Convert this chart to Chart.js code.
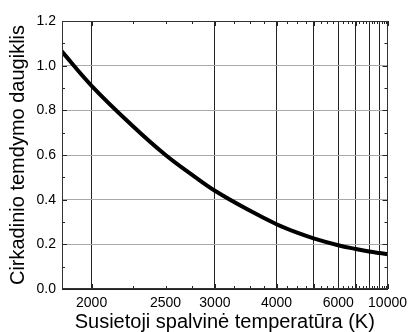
<!DOCTYPE html>
<html>
<head>
<meta charset="utf-8">
<script src="https://cdn.jsdelivr.net/npm/chart.js@4/dist/chart.umd.min.js"></script>
<style>
  body { margin: 0; background: #fff; }
  #wrap { width: 413px; height: 332px; }
</style>
</head>
<body>
<div id="wrap"><canvas id="cct"></canvas></div>
<script>
// correlated colour temperature (K) and circadian dimming factor
const temps = [1850, 2000, 2250, 2500, 2750, 3000, 3500, 4000, 4500, 5000, 6000, 7000, 8000, 9000, 10000];
const factor = [1.065, 0.91, 0.73, 0.60, 0.51, 0.44, 0.35, 0.29, 0.252, 0.227, 0.196, 0.179, 0.168, 0.161, 0.156];

// x ticks (K), drawn on a reciprocal (mired) axis
const tickTemps = [2000, 2250, 2500, 2750, 3000, 3250, 3500, 3750, 4000, 4250, 4500, 4750,
  5000, 5250, 5500, 5750, 6000, 6250, 6500, 6750, 7000, 7250, 7500, 7750,
  8000, 8250, 8500, 8750, 9000, 9250, 9500, 9750, 10000];
const gridTemps = [2000, 3000, 4000, 5000, 6000, 7000, 8000, 9000, 10000];
const labelTemps = [2000, 2500, 3000, 4000, 6000, 10000];

const mired = t => 1e6 / t;
const kelvin = m => Math.round(1e6 / m);
const isMajorY = v => Math.round(v * 10) % 2 === 0;

const FONT = "'Liberation Sans', Arial, sans-serif";

const innerTicks = {
  id: 'innerTicks',
  afterDraw(chart) {
    const {ctx, chartArea: a, scales: {x, y}} = chart;
    ctx.save();
    ctx.strokeStyle = '#222';
    ctx.lineWidth = 1;
    const seg = (x1, y1, x2, y2) => { ctx.beginPath(); ctx.moveTo(x1, y1); ctx.lineTo(x2, y2); ctx.stroke(); };
    x.ticks.forEach(t => {
      const px = Math.round(x.getPixelForValue(t.value)) + 0.5;
      const len = gridTemps.includes(kelvin(t.value)) ? 5 : 3;
      seg(px, a.bottom, px, a.bottom - len);
      seg(px, a.top, px, a.top + len);
    });
    y.ticks.forEach(t => {
      const py = Math.round(y.getPixelForValue(t.value)) + 0.5;
      const len = isMajorY(t.value) ? 5 : 3;
      seg(a.left, py, a.left + len, py);
      seg(a.right, py, a.right - len, py);
    });
    ctx.strokeStyle = '#333';
    ctx.strokeRect(Math.round(a.left) + 0.5, Math.round(a.top) + 0.5,
      Math.round(a.width) - 1, Math.round(a.height) - 1);
    ctx.restore();
  }
};

new Chart(document.getElementById('cct'), {
  type: 'line',
  data: {
    datasets: [{
      data: temps.map((t, i) => ({x: mired(t), y: factor[i]})),
      borderColor: '#000',
      borderWidth: 4,
      pointRadius: 0,
      tension: 0.4,
      fill: false
    }]
  },
  options: {
    responsive: true,
    maintainAspectRatio: false,
    animation: false,
    layout: { padding: { top: 21, right: 22, left: 0, bottom: 0 } },
    plugins: { legend: { display: false }, tooltip: { enabled: false } },
    scales: {
      x: {
        type: 'linear',
        reverse: true,
        min: 100,
        max: 540,
        afterBuildTicks: s => { s.ticks = tickTemps.map(t => ({value: mired(t)})); },
        afterFit: s => { s.height = 43; },
        grid: {
          drawTicks: false,
          color: c => gridTemps.includes(kelvin(c.tick.value)) ? '#222' : 'rgba(0,0,0,0)',
          lineWidth: 1
        },
        border: { display: true, color: '#222' },
        ticks: {
          autoSkip: false,
          maxRotation: 0,
          padding: 6,
          color: '#000',
          font: { family: FONT, size: 14 },
          callback: v => labelTemps.includes(kelvin(v)) ? String(kelvin(v)) : ''
        },
        title: {
          display: true,
          text: 'Susietoji spalvinė temperatūra (K)',
          color: '#000',
          font: { family: FONT, size: 20, lineHeight: 1 },
          padding: { top: 0, bottom: 0 }
        }
      },
      y: {
        min: 0,
        max: 1.2,
        afterFit: s => { s.width = 62; },
        grid: {
          drawTicks: false,
          color: c => isMajorY(c.tick.value) ? '#aaaaaa' : 'rgba(0,0,0,0)',
          lineWidth: 1
        },
        border: { display: true, color: '#333' },
        ticks: {
          stepSize: 0.1,
          padding: 6,
          color: '#000',
          font: { family: FONT, size: 14 },
          callback: v => isMajorY(v) ? v.toFixed(1) : ''
        },
        title: {
          display: true,
          text: 'Cirkadinio temdymo daugiklis',
          color: '#000',
          font: { family: FONT, size: 20, lineHeight: 1 },
          padding: { top: 8, bottom: 0 }
        }
      }
    }
  },
  plugins: [innerTicks]
});
</script>
</body>
</html>
